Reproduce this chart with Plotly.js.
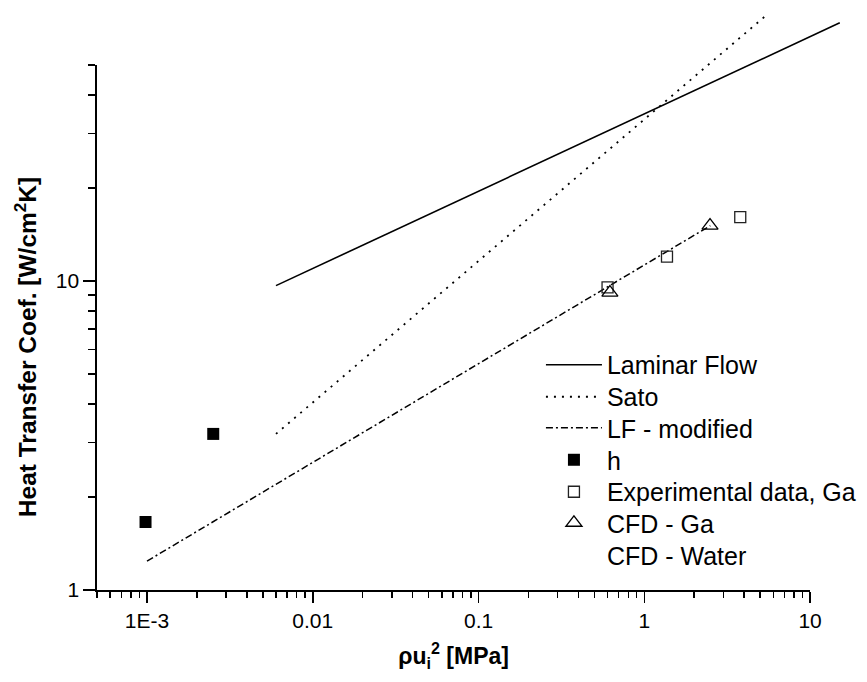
<!DOCTYPE html>
<html>
<head>
<meta charset="utf-8">
<script src="https://cdn.plot.ly/plotly-3.0.1.min.js"></script>
<style>
html,body{margin:0;padding:0;background:#fff;}
#chart{width:867px;height:682px;}
</style>
</head>
<body>
<div id="chart"></div>
<script>
// ---- data ----
const laminarX = [0.006, 15.1];
const laminarY = [9.66, 68.5];
const satoX = [0.006, 5.55];
const satoY = [3.2, 73.1];
const lfModX = [0.001, 2.5];
const lfModY = [1.24, 15.1];
const hX = [0.00098, 0.00251];
const hY = [1.66, 3.2];
const expGaX = [0.60, 1.37, 3.79];
const expGaY = [9.54, 12.0, 16.1];
const cfdGaX = [0.62, 2.49];
const cfdGaY = [9.17, 15.1];
const cfdWaterX = [null];   // legend entry only, no visible points
const cfdWaterY = [null];

const seriesNames = ["Laminar Flow", "Sato", "LF - modified", "h", "Experimental data, Ga", "CFD - Ga", "CFD - Water"];

// ---- ticks ----
const xMajorTicks = [0.001, 0.01, 0.1, 1, 10];
const xTickText = ["1E-3", "0.01", "0.1", "1", "10"];
const xMinorTicks = [0.0005, 0.0006, 0.0007, 0.0008, 0.0009,
  0.002, 0.003, 0.004, 0.005, 0.006, 0.007, 0.008, 0.009,
  0.02, 0.03, 0.04, 0.05, 0.06, 0.07, 0.08, 0.09,
  0.2, 0.3, 0.4, 0.5, 0.6, 0.7, 0.8, 0.9,
  2, 3, 4, 5, 6, 7, 8, 9];
const yMajorTicks = [1, 10];
const yTickText = ["1", "10"];
const yMinorTicks = [2, 3, 4, 5, 6, 7, 8, 9, 20, 30, 40, 50];

const xTitle = "ρu<sub>i</sub><sup>2</sup> [MPa]";
const yTitle = "Heat Transfer Coef. [W/cm<sup>2</sup>K]";

// ---- layout geometry ----
const FONT = 'Arial, "Liberation Sans", sans-serif';
const XR = [-3.3015, 1.2105];          // full drawing area (log10)
const YR = [0, 1.877];
const xAxisEnd = 1.0005;               // axis drawn to 10
const yAxisEnd = 1.6995;               // axis drawn to 50
const xDomEnd = (xAxisEnd - XR[0]) / (XR[1] - XR[0]);
const yDomEnd = (yAxisEnd - YR[0]) / (YR[1] - YR[0]);
const yTitleDomEnd = 0.838;            // where the y title is centred

const dotDash = "2px,6px";
const dashDot = "7px,3px,2px,3px";

const legendIds = ['legend', 'legend2', 'legend3', 'legend4', 'legend5', 'legend6', 'legend7'];
const legendRowPaperY = [0.388, 0.3328, 0.2793, 0.2241, 0.169, 0.1155, 0.0603];

const traces = [
  {x: laminarX, y: laminarY, name: seriesNames[0], mode: 'lines', line: {color: '#000', width: 1.6}},
  {x: satoX, y: satoY, name: seriesNames[1], mode: 'lines', line: {color: '#000', width: 1.8, dash: dotDash}},
  {x: lfModX, y: lfModY, name: seriesNames[2], mode: 'lines', line: {color: '#000', width: 1.5, dash: dashDot}},
  {x: hX, y: hY, name: seriesNames[3], mode: 'markers', marker: {symbol: 'square', size: 12, color: '#000'}},
  {x: expGaX, y: expGaY, name: seriesNames[4], mode: 'markers', marker: {symbol: 'square-open', size: 11, color: '#222', line: {width: 1.3}}},
  {x: cfdGaX, y: cfdGaY, name: seriesNames[5], mode: 'markers', marker: {symbol: 'triangle-up-open', size: 14, color: '#000', line: {width: 1.3}}},
  {x: cfdWaterX, y: cfdWaterY, name: seriesNames[6], mode: 'markers', marker: {symbol: 'circle', size: 10, color: 'rgba(0,0,0,0)'}}
].map((t, i) => Object.assign({type: 'scatter', cliponaxis: false, legend: legendIds[i], showlegend: true}, t));

// carriers for the visible axes frame and the y title axis
traces.push({type: 'scatter', x: [], y: [], xaxis: 'x2', yaxis: 'y2', mode: 'markers', showlegend: false, hoverinfo: 'skip'});
traces.push({type: 'scatter', x: [], y: [], xaxis: 'x2', yaxis: 'y3', mode: 'markers', showlegend: false, hoverinfo: 'skip'});

const axisCommon = {
  type: 'log', showgrid: false, zeroline: false,
  showline: true, linecolor: '#000', linewidth: 1.6, mirror: false,
  ticks: 'outside', tickwidth: 1.5, tickcolor: '#000',
  tickmode: 'array',
  tickfont: {family: FONT, size: 21, color: '#000'}
};

const layout = {
  width: 867, height: 682,
  margin: {l: 97, r: 22, t: 10, b: 92, autoexpand: false},
  paper_bgcolor: '#fff', plot_bgcolor: 'rgba(0,0,0,0)',
  font: {family: FONT, color: '#000'},
  hovermode: false,
  xaxis: {type: 'log', range: XR, domain: [0, 1], visible: false, anchor: 'y'},
  yaxis: {type: 'log', range: YR, domain: [0, 1], visible: false, anchor: 'x'},
  xaxis2: Object.assign({}, axisCommon, {
    range: [XR[0], xAxisEnd], domain: [0, xDomEnd], anchor: 'y2',
    ticklen: 11, tickvals: xMajorTicks, ticktext: xTickText,
    minor: {tickmode: 'array', tickvals: xMinorTicks, ticks: 'outside', ticklen: 6, tickwidth: 1.5, tickcolor: '#000', showgrid: false},
    title: {text: xTitle, standoff: 17, font: {family: FONT, size: 23, color: '#000', weight: 'bold'}}
  }),
  yaxis2: Object.assign({}, axisCommon, {
    range: [YR[0], yAxisEnd], domain: [0, yDomEnd], anchor: 'x2',
    ticklen: 12, tickvals: yMajorTicks, ticktext: yTickText,
    minor: {tickmode: 'array', tickvals: yMinorTicks, ticks: 'outside', ticklen: 7, tickwidth: 1.5, tickcolor: '#000', showgrid: false}
  }),
  yaxis3: {
    type: 'log', range: [0, 1], domain: [0, yTitleDomEnd], anchor: 'x2',
    showline: false, showgrid: false, zeroline: false, ticks: '', showticklabels: false,
    title: {text: yTitle, standoff: 52, font: {family: FONT, size: 24.5, color: '#000', weight: 'bold'}}
  }
};

legendIds.forEach((id, i) => {
  layout[id] = {
    x: 0.5935, y: legendRowPaperY[i], xanchor: 'left', yanchor: 'middle',
    bgcolor: 'rgba(0,0,0,0)', borderwidth: 0,
    itemwidth: 56,
    font: {family: FONT, size: 25, color: '#000'}
  };
});

Plotly.newPlot('chart', traces, layout, {displayModeBar: false, staticPlot: true});
</script>
</body>
</html>
